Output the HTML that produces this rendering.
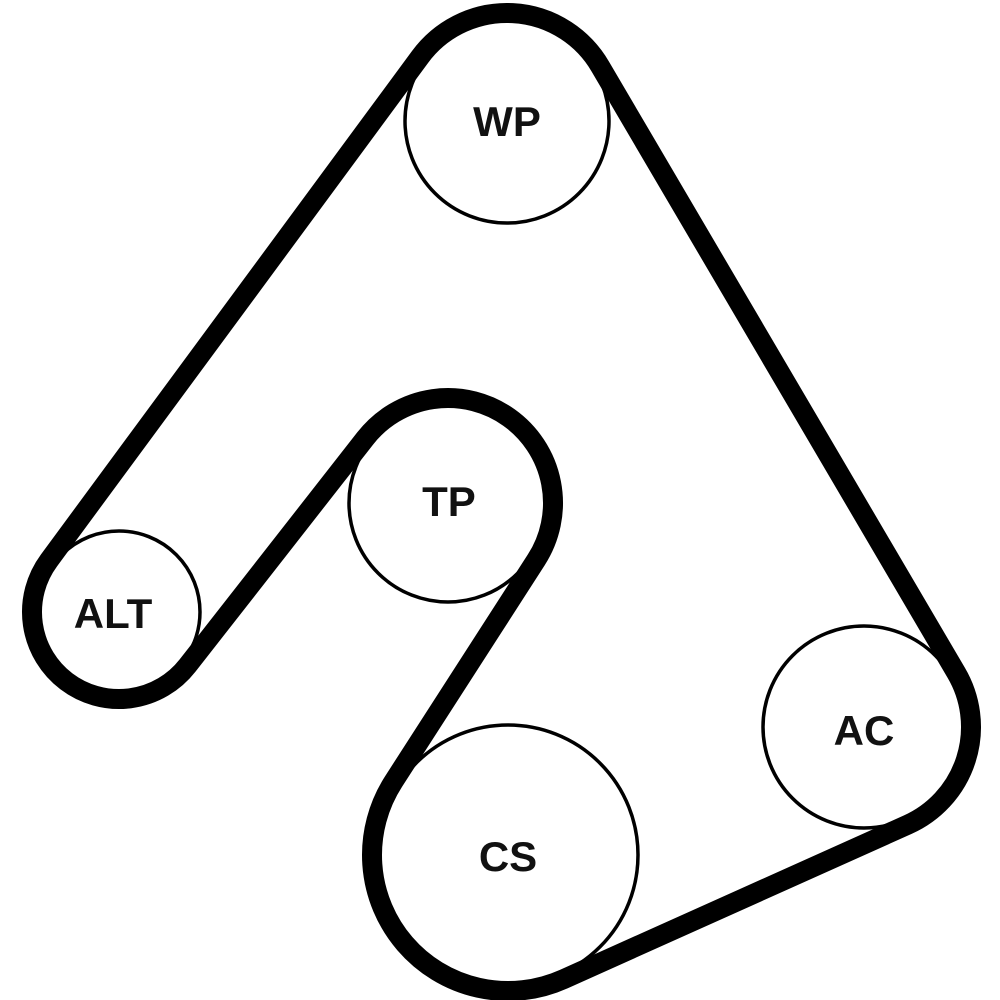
<!DOCTYPE html>
<html><head><style>
html,body{margin:0;padding:0;background:#fff;width:1000px;height:1000px;overflow:hidden}
text{font-family:"Liberation Sans",Arial,sans-serif;font-weight:bold;font-size:42px;fill:#111}
</style></head><body>
<svg id="s" width="1000" height="1000" viewBox="0 0 1000 1000">
<path id="belt" fill="none" stroke="#000" stroke-width="20" stroke-linejoin="round"/>
<g fill="none" stroke="#000" stroke-width="3.5">
<circle cx="507" cy="121" r="102"/>
<circle cx="448" cy="503" r="99"/>
<circle cx="119" cy="612" r="81"/>
<circle cx="508" cy="855" r="130"/>
<circle cx="864" cy="727" r="101"/>
</g>
<text x="507" y="136" text-anchor="middle">WP</text>
<text x="449" y="516" text-anchor="middle">TP</text>
<text x="113" y="628" text-anchor="middle">ALT</text>
<text x="508" y="871" text-anchor="middle">CS</text>
<text x="864" y="745" text-anchor="middle">AC</text>
</svg>
<script>
var off=6;
var P=[[507,121,102,1],[864,727,101,1],[508,855,130,1],[448,503,99,-1],[119,612,81,1]];
var n=P.length,T=[];
for(var i=0;i<n;i++){
 var a=P[i],b=P[(i+1)%n];
 var r1=-a[3]*(a[2]+off),r2=-b[3]*(b[2]+off);
 var Dx=b[0]-a[0],Dy=b[1]-a[1],L=Math.hypot(Dx,Dy);
 var ux=Dx/L,uy=Dy/L,k=(r1-r2)/L,h=Math.sqrt(1-k*k);
 var nx=k*ux+h*(-uy),ny=k*uy+h*ux;
 T.push([[a[0]+r1*nx,a[1]+r1*ny],[b[0]+r2*nx,b[1]+r2*ny]]);
}
var d="";
for(var i=0;i<n;i++){
 var s=T[i][0],e=T[i][1];
 if(i==0)d+="M"+s[0]+" "+s[1];
 d+=" L"+e[0]+" "+e[1];
 var c=P[(i+1)%n],nx2=T[(i+1)%n][0];
 var R=c[2]+off,cw=c[3]==1;
 var a1=Math.atan2(e[1]-c[1],e[0]-c[0]),a2=Math.atan2(nx2[1]-c[1],nx2[0]-c[0]);
 var sw=cw?(a2-a1):(a1-a2);
 while(sw<0)sw+=2*Math.PI;
 d+=" A"+R+" "+R+" 0 "+(sw>Math.PI?1:0)+" "+(cw?1:0)+" "+nx2[0]+" "+nx2[1];
}
document.getElementById("belt").setAttribute("d",d+"Z");
</script>
</body></html>
